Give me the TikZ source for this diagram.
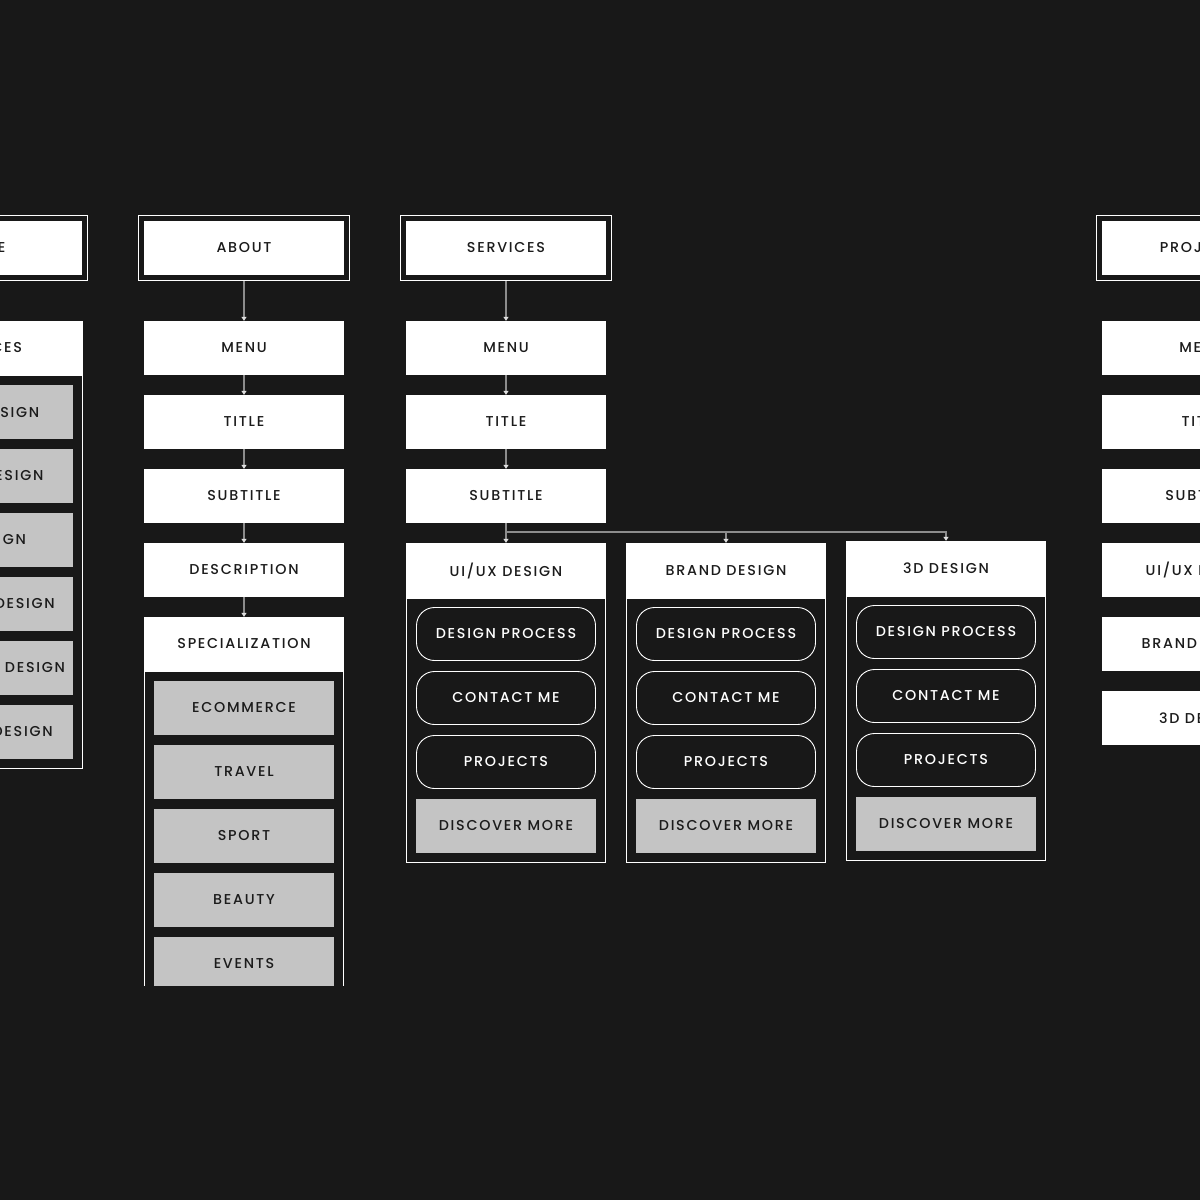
\documentclass[tikz,border=0pt]{standalone}
\usepackage{fontspec}
\setmainfont{Poppins}[UprightFont=* Medium, LetterSpace=12]
\usetikzlibrary{arrows.meta,fit}
\definecolor{bg}{HTML}{181818}
\definecolor{txt}{HTML}{1B1B1B}
\definecolor{gfill}{HTML}{C4C4C4}
\definecolor{conn}{HTML}{8C8C8C}
\definecolor{tipc}{HTML}{E0E0E0}
\begin{document}
\begin{tikzpicture}[x=1pt,y=-1pt,
 lbl/.style={font=\fontsize{14.3}{16}\selectfont},
 wbox/.style={fill=white,text=txt,minimum width=200pt,minimum height=54pt,inner sep=0pt,lbl},
 hbox/.style={wbox,minimum height=55pt},
 gbox/.style={fill=gfill,text=txt,minimum width=180pt,minimum height=54pt,inner sep=0pt,lbl},
 pill/.style={draw=white,line width=0.9pt,fill=bg,text=white,rounded corners=18pt,minimum width=179pt,minimum height=53pt,inner sep=0pt,lbl},
 pframe/.style={draw=white,line width=1pt,inner sep=5.5pt,fit=#1},
 frame/.style={draw=white,line width=1pt},
 arr/.style={draw=conn,line width=1.3pt,-{Triangle[width=5pt,length=4pt,color=tipc]}},
 link/.style={draw=conn,line width=1.3pt}
]
\fill[bg] (0,0) rectangle (1200,1200);
\useasboundingbox (0,0) rectangle (1200,1200);
\begin{scope}
\clip (0,0) rectangle (1200,985);

% HOME column (cut off at left)
\node[wbox] (home) at (-18,248) {HOME};
\node[pframe=(home)] (homef) {};
\node[wbox] (hserv) at (-17,348) {SERVICES};
\draw[frame] (-117,375) rectangle (82.5,768);
\node[gbox] (h1) at (-17,411.5) {UI/UX DESIGN};
\node[gbox] (h2) at (-17,475.5) {BRAND DESIGN};
\node[gbox] (h3) at (-17,539.5) {3D DESIGN};
\node[gbox] (h4) at (-17,603.5) {PRODUCT DESIGN};
\node[gbox] (h5) at (-17,667.5) {PACKAGING DESIGN};
\node[gbox] (h6) at (-17,731.5) {GRAPHIC DESIGN};

% ABOUT column
\node[wbox] (about) at (244,248) {ABOUT};
\node[pframe=(about)] (aboutf) {};
\node[wbox] (amenu) at (244,348) {MENU};
\node[wbox] (atitle) at (244,422) {TITLE};
\node[wbox] (asub) at (244,496) {SUBTITLE};
\node[wbox] (adesc) at (244,570) {DESCRIPTION};
\node[wbox] (aspec) at (244,644) {SPECIALIZATION};
\draw[frame] (144.5,671) rectangle (343.5,1000);
\node[gbox] (a1) at (244,708) {ECOMMERCE};
\node[gbox] (a2) at (244,772) {TRAVEL};
\node[gbox] (a3) at (244,836) {SPORT};
\node[gbox] (a4) at (244,900) {BEAUTY};
\node[gbox] (a5) at (244,964) {EVENTS};
\draw[arr] (aboutf.south) -- (amenu.north);
\draw[arr] (amenu.south) -- (atitle.north);
\draw[arr] (atitle.south) -- (asub.north);
\draw[arr] (asub.south) -- (adesc.north);
\draw[arr] (adesc.south) -- (aspec.north);

% SERVICES column
\node[wbox] (serv) at (506,248) {SERVICES};
\node[pframe=(serv)] (servf) {};
\node[wbox] (smenu) at (506,348) {MENU};
\node[wbox] (stitle) at (506,422) {TITLE};
\node[wbox] (ssub) at (506,496) {SUBTITLE};
\draw[arr] (servf.south) -- (smenu.north);
\draw[arr] (smenu.south) -- (stitle.north);
\draw[arr] (stitle.south) -- (ssub.north);

% UI/UX card
\node[hbox] (ui) at (506,570.5) {UI/UX DESIGN};
\draw[frame] (406.5,598) rectangle (605.5,862);
\node[pill] (u1) at (506,634) {DESIGN PROCESS};
\node[pill] (u2) at (506,698) {CONTACT ME};
\node[pill] (u3) at (506,762) {PROJECTS};
\node[gbox] (u4) at (506,826) {DISCOVER MORE};

% BRAND card
\node[hbox] (brand) at (726,570.5) {BRAND DESIGN};
\draw[frame] (626.5,598) rectangle (825.5,862);
\node[pill] (b1) at (726,634) {DESIGN PROCESS};
\node[pill] (b2) at (726,698) {CONTACT ME};
\node[pill] (b3) at (726,762) {PROJECTS};
\node[gbox] (b4) at (726,826) {DISCOVER MORE};

% 3D card
\node[hbox] (three) at (946,568.5) {3D DESIGN};
\draw[frame] (846.5,596) rectangle (1045.5,860);
\node[pill] (t1) at (946,632) {DESIGN PROCESS};
\node[pill] (t2) at (946,696) {CONTACT ME};
\node[pill] (t3) at (946,760) {PROJECTS};
\node[gbox] (t4) at (946,824) {DISCOVER MORE};

\coordinate (sj) at (506,532);
\draw[link] (ssub.south) -- (sj);
\draw[arr] (sj) -- (ui.north);
\draw[arr] (sj) -| (brand.north);
\draw[arr] (sj) -| (three.north);

% PROJECTS column (cut off at right)
\node[wbox] (proj) at (1202,248) {PROJECTS};
\node[pframe=(proj)] (projf) {};
\node[wbox] (pmenu) at (1202,348) {MENU};
\node[wbox] (ptitle) at (1202,422) {TITLE};
\node[wbox] (psub) at (1202,496) {SUBTITLE};
\node[wbox] (pui) at (1202,570) {UI/UX DESIGN};
\node[wbox] (pbrand) at (1202,644) {BRAND DESIGN};
\node[wbox] (pthree) at (1202,718) {3D DESIGN};
\end{scope}
\end{tikzpicture}
\end{document}
